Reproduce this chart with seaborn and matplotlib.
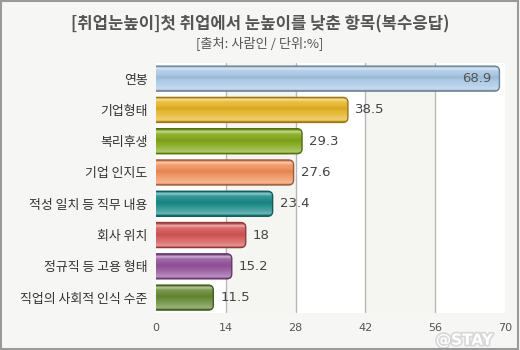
import numpy as np
import pandas as pd
import matplotlib
matplotlib.use("Agg")
import matplotlib.pyplot as plt
import matplotlib.colors as mcolors
from matplotlib.patches import FancyBboxPatch, Rectangle
from matplotlib.transforms import IdentityTransform
import matplotlib.patheffects as pe
import seaborn as sns

# Survey data
categories = ["연봉", "기업형태", "복리후생", "기업 인지도", "적성 일치 등 직무 내용",
              "회사 위치", "정규직 등 고용 형태", "직업의 사회적 인식 수준"]
values = [68.9, 38.5, 29.3, 27.6, 23.4, 18, 15.2, 11.5]
bar_colors = ["#a9c8e4", "#e6b52c", "#84aa1e", "#f0915e", "#1f8d8c",
              "#d45a5a", "#96589e", "#6a8c3a"]
x_ticks = [0, 14, 28, 42, 56, 70]
title = "[취업눈높이]첫 취업에서 눈높이를 낮춘 항목(복수응답)"
subtitle = "[출처: 사람인 / 단위:%]"

sns.set_theme(style="white")
plt.rcParams["font.family"] = ["Noto Sans CJK KR", "DejaVu Sans"]

fig_bg = "#f6f6f4"
fig = plt.figure(figsize=(5.2, 3.5), dpi=100, facecolor=fig_bg)
ax = fig.add_axes([0.30, 0.105, 0.671, 0.715])
ax.set_facecolor("white")

df = pd.DataFrame({"item": categories, "pct": values})
sns.barplot(data=df, y="item", x="pct", hue="item", palette=bar_colors,
            legend=False, orient="h", width=0.8, ax=ax, saturation=1)

ax.set_xlim(x_ticks[0], x_ticks[-1])
ylim = ax.get_ylim()
ax.set_ylim(ylim)

# alternating background bands and grid lines
for i in range(len(x_ticks) - 1):
    if i % 2 == 1:
        ax.axvspan(x_ticks[i], x_ticks[i + 1], color="#f5f5f2", zorder=0, lw=0)
for t in x_ticks[1:-1]:
    ax.axvline(t, color="#b8b8b8", lw=1, zorder=0.5)

fig.canvas.draw()


def shade(c, f):
    r, g, b = mcolors.to_rgb(c)
    if f >= 0:
        return (r + (1 - r) * f, g + (1 - g) * f, b + (1 - b) * f)
    return (r * (1 + f), g * (1 + f), b * (1 + f))


# glossy vertical profile, top to bottom
stops = [(0.00, -0.35), (0.07, -0.05), (0.13, 0.55), (0.22, 0.12),
         (0.48, -0.08), (0.78, 0.18), (0.92, 0.35), (1.00, -0.30)]
radius = 5.0
ident = IdentityTransform()

for patch, col, v in zip(ax.patches, bar_colors, values):
    x0 = patch.get_x()
    y0 = patch.get_y()
    w = patch.get_width()
    h = patch.get_height()
    patch.set_visible(False)
    (L, T) = ax.transData.transform((x0, y0))
    (R, B) = ax.transData.transform((x0 + w, y0 + h))
    lo, hi = min(T, B), max(T, B)
    # start the rounded box left of the axis so only the right end shows rounded
    left = L - radius * 1.5
    box = FancyBboxPatch((left, lo), R - left, hi - lo,
                         boxstyle=f"round,pad=0,rounding_size={radius}",
                         transform=ident, facecolor="none",
                         edgecolor=shade(col, -0.35), lw=1.0, zorder=3)
    box.set_clip_box(ax.bbox)
    ax.add_artist(box)
    n = 64
    pos = np.linspace(0, 1, n)
    fs = np.interp(pos, [s[0] for s in stops], [s[1] for s in stops])
    grad = np.array([[shade(col, f) + (1.0,)] for f in fs])
    im = ax.imshow(grad, extent=(x0, x0 + w, y0 + h, y0),
                   origin="upper", aspect="auto", zorder=2,
                   interpolation="bilinear")
    im.set_clip_path(box)
    label = f"{v:g}"
    if v > 60:
        ax.annotate(label, (x0 + w, y0 + h / 2), xytext=(-6, 0),
                    textcoords="offset points", ha="right", va="center",
                    fontsize=9.5, color="#555555", zorder=4,
                    family="DejaVu Sans")
    else:
        ax.annotate(label, (x0 + w, y0 + h / 2), xytext=(5, 0),
                    textcoords="offset points", ha="left", va="center",
                    fontsize=9.5, color="#444444", zorder=4,
                    family="DejaVu Sans")

ax.set_ylim(ylim)
ax.set_xlim(x_ticks[0], x_ticks[-1])
ax.set_xticks(x_ticks)
ax.set_xticklabels([str(t) for t in x_ticks], fontsize=8, color="#555555",
                   family="DejaVu Sans")
ax.tick_params(axis="x", length=0, pad=7)
ax.tick_params(axis="y", length=0, pad=6, labelsize=9.3, labelcolor="#333333")
ax.set_xlabel("")
ax.set_ylabel("")
for s in ax.spines.values():
    s.set_visible(False)

fig.text(0.5, 0.93, title, ha="center", va="center", fontsize=12,
         fontweight="bold", color="#555555")
fig.text(0.5, 0.877, subtitle, ha="center", va="center", fontsize=9.5,
         color="#555555")

fig.text(0.893, 0.028, "@STAY", ha="center", va="center", fontsize=11,
         fontweight="bold", color="white", family="DejaVu Sans", zorder=0,
         path_effects=[pe.withStroke(linewidth=2.5, foreground="#d8d8d8")])

fig.patches.append(Rectangle((0.002, 0.003), 0.995, 0.994,
                             transform=fig.transFigure, fill=False,
                             edgecolor="#9a9a9a", lw=1.5))

fig.savefig("out.png", dpi=100, facecolor=fig_bg)
